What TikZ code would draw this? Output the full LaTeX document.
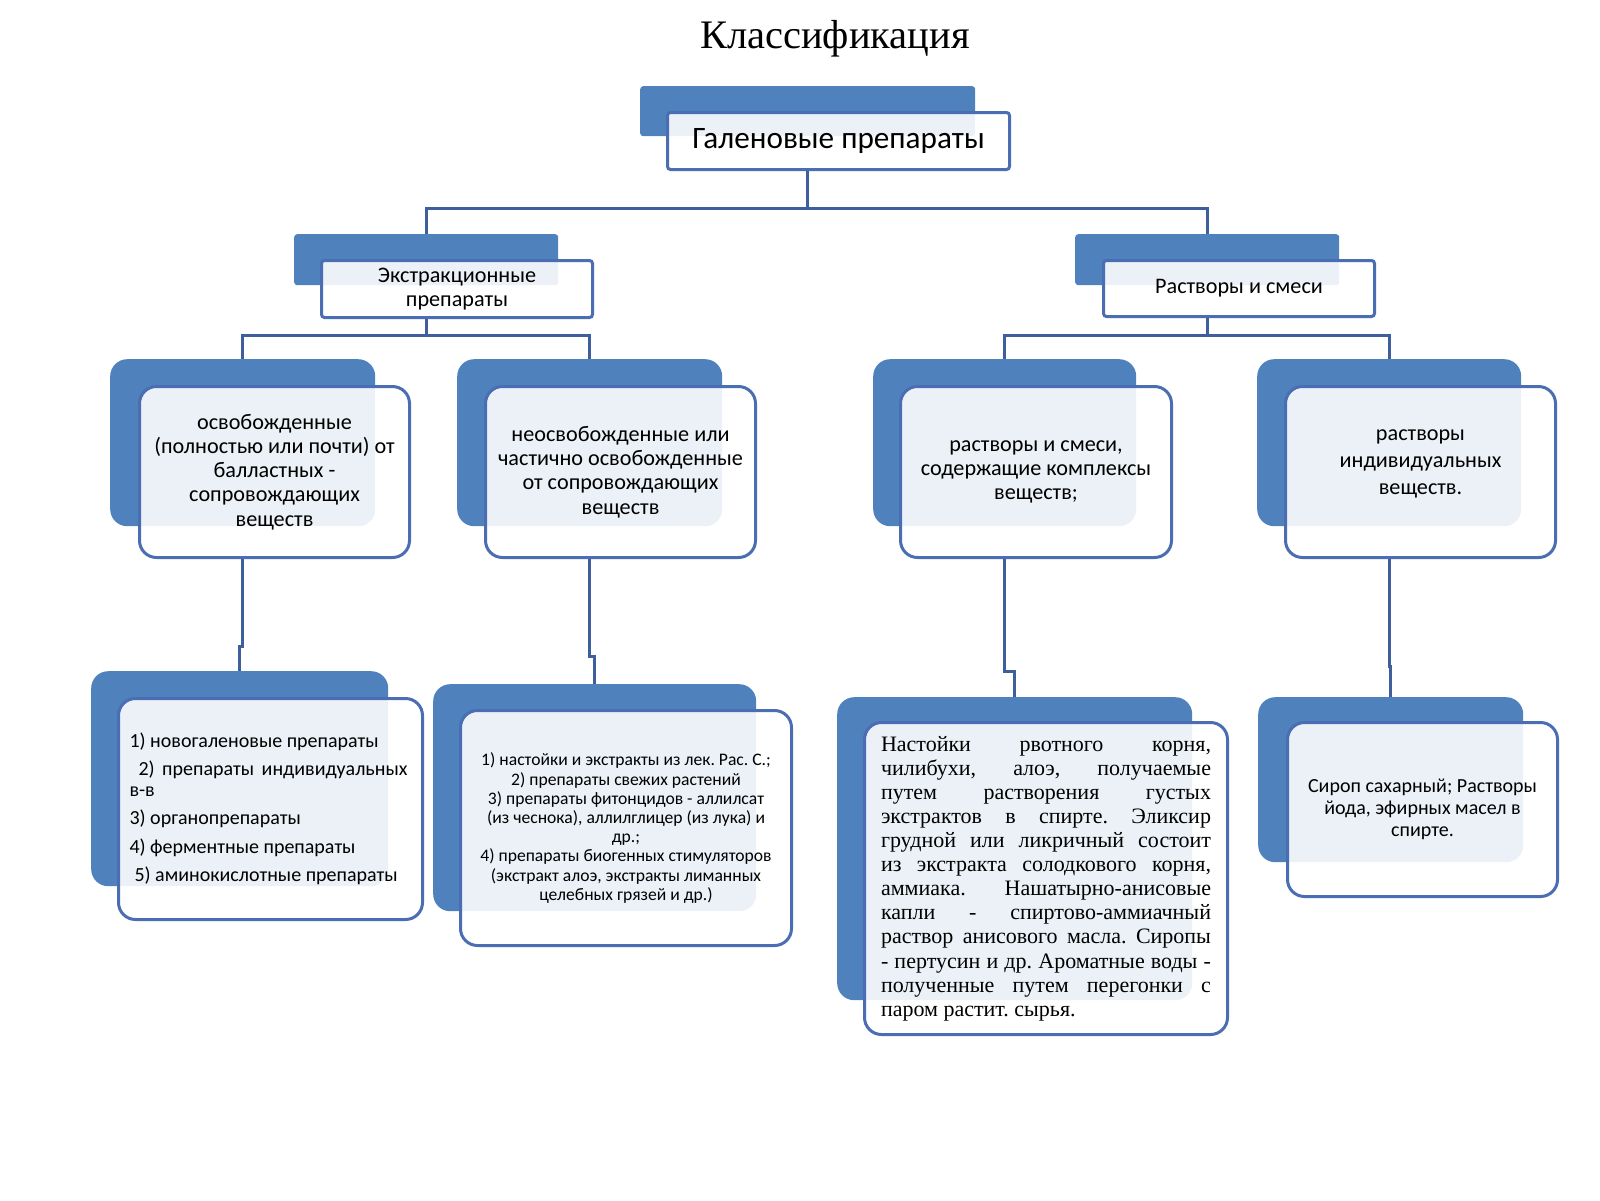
\documentclass[tikz,border=0pt]{standalone}
\usepackage{fontspec}
\setmainfont{Carlito}
\newfontfamily\serf{Liberation Serif}
\definecolor{dblue}{HTML}{4F81BD}
\definecolor{edgeb}{HTML}{4A6DB3}
\definecolor{connb}{HTML}{3F5E9C}
\newcommand{\normsp}{\spaceskip=0pt\xspaceskip=0pt\relax}
\newcommand{\jline}[2]{\leavevmode\hbox to #1{#2}}
\tikzset{
  backbox/.style={fill=dblue, draw=none, inner sep=0pt, anchor=north west},
  frontbox/.style={draw=edgeb, line width=3pt, fill=white, fill opacity=0.89, text opacity=1, inner sep=0pt, anchor=north west, align=center, font=\fontsize{22.2}{24.2}\selectfont},
  rsmall/.style={rounded corners=3pt},
  rbig/.style={rounded corners=17pt},
  conn/.style={draw=connb, line width=3pt},
}
\frenchspacing
\begin{document}
\begin{tikzpicture}[x=1pt,y=-1pt]
\fill[white] (0,0) rectangle (1600,1200);
\useasboundingbox (0,0) rectangle (1600,1200);

% title
\node[font=\serf\fontsize{40.5}{44}\selectfont] (title) at (835,39) {Классификация};

% level 1
\node[backbox, rsmall, minimum width=335, minimum height=50] (topb) at (640,86) {};
\node[frontbox, rsmall, minimum width=342, minimum height=57, font=\fontsize{31.2}{34}\selectfont] (topf) at (666,111) {\normsp\raisebox{-3pt}{Галеновые препараты}};

% level 2
\node[backbox, rsmall, minimum width=264, minimum height=51] (lb) at (294,234) {};
\node[frontbox, rsmall, minimum width=271, minimum height=57, font=\fontsize{22.2}{24.5}\selectfont] (lf) at (320,259) {Экстракционные\\препараты};
\node[backbox, rsmall, minimum width=264, minimum height=51] (rb) at (1075,234) {};
\node[frontbox, rsmall, minimum width=271, minimum height=56, font=\fontsize{22.2}{24.5}\selectfont] (rf) at (1102,259) {Растворы и смеси};

% level 3
\node[backbox, rbig, minimum width=265, minimum height=167] (a3b) at (110,359) {};
\node[frontbox, rbig, minimum width=270, minimum height=171] (a3f) at (138,385) {освобожденные\\(полностью или почти) от\\балластных -\\сопровождающих\\веществ};
\node[backbox, rbig, minimum width=265, minimum height=167] (b3b) at (457,359) {};
\node[frontbox, rbig, minimum width=270, minimum height=171] (b3f) at (484,385) {неосвобожденные или\\частично освобожденные\\от сопровождающих\\веществ};
\node[backbox, rbig, minimum width=263, minimum height=167] (c3b) at (873,359) {};
\node[frontbox, rbig, minimum width=271, minimum height=171] (c3f) at (899,385) {растворы и смеси,\\содержащие комплексы\\веществ;};
\node[backbox, rbig, minimum width=264, minimum height=167] (d3b) at (1257,359) {};
\node[frontbox, rbig, minimum width=270, minimum height=171, font=\fontsize{22.2}{27}\selectfont] (d3f) at (1284,385) {растворы\\индивидуальных\\веществ.\\[-8pt]\mbox{}};

% level 4
\node[backbox, rbig, minimum width=297, minimum height=215] (a4b) at (91,671) {};
\node[frontbox, rbig, minimum width=304, minimum height=221, align=left, text width=282, font=\fontsize{20}{20.5}\selectfont] (a4f) at (117,697) {\normsp 1) новогаленовые препараты\\[8pt]
\hspace*{9pt}\jline{269pt}{2)\hfill препараты\hfill индивидуальных}\\
в-в\\[8pt]
3) органопрепараты\\[8pt]
4) ферментные препараты\\[8pt]
\hspace*{5pt}5) аминокислотные препараты};

\node[backbox, rbig, minimum width=323, minimum height=227] (b4b) at (433,684) {};
\node[frontbox, rbig, minimum width=331, minimum height=235, font=\fontsize{17.6}{19.2}\selectfont] (b4f) at (459,709) {1) настойки и экстракты из лек. Рас. С.;\\2) препараты свежих растений\\3) препараты фитонцидов - аллилсат\\(из чеснока), аллилглицер (из лука) и\\др.;\\4) препараты биогенных стимуляторов\\(экстракт алоэ, экстракты лиманных\\целебных грязей и др.)};

\node[backbox, rbig, minimum width=355, minimum height=303] (c4b) at (837,697) {};
\node[frontbox, rbig, minimum width=363, minimum height=312, align=left, text width=330, font=\serf\fontsize{22}{24.1}\selectfont] (c4f) at (863,721) {\normsp\jline{330pt}{Настойки\hfill рвотного\hfill корня,}\\
\jline{330pt}{чилибухи,\hfill алоэ,\hfill получаемые}\\
\jline{330pt}{путем\hfill растворения\hfill густых}\\
\jline{330pt}{экстрактов\hfill в\hfill спирте.\hfill Эликсир}\\
\jline{330pt}{грудной\hfill или\hfill ликричный\hfill состоит}\\
\jline{330pt}{из\hfill экстракта\hfill солодкового\hfill корня,}\\
\jline{330pt}{аммиака.\hfill Нашатырно-анисовые}\\
\jline{330pt}{капли\hfill -\hfill спиртово-аммиачный}\\
\jline{330pt}{раствор\hfill анисового\hfill масла.\hfill Сиропы}\\
\jline{330pt}{-\hfill пертусин\hfill и\hfill др.\hfill Ароматные\hfill воды\hfill -}\\
\jline{330pt}{полученные\hfill путем\hfill перегонки\hfill с}\\
паром растит. сырья.};

\node[backbox, rbig, minimum width=265, minimum height=165] (d4b) at (1258,697) {};
\node[frontbox, rbig, minimum width=270, minimum height=174, font=\fontsize{20}{22}\selectfont] (d4f) at (1286,721) {Сироп сахарный; Растворы\\йода, эфирных масел в\\спирте.};

% connectors
\draw[conn] (topb |- topf.south) -- ++(0,37) -| (lb.north);
\draw[conn] (topb |- topf.south) -- ++(0,37) -| (rb.north);
\draw[conn] (lb |- lf.south) -- ++(0,16) -| (a3b.north);
\draw[conn] (lb |- lf.south) -- ++(0,16) -| (b3b.north);
\draw[conn] (rb |- rf.south) -- ++(0,17) -| (c3b.north);
\draw[conn] (rb |- rf.south) -- ++(0,17) -| (d3b.north);
\draw[conn] (a3b |- a3f.south) -- ++(0,87) -| (a4b.north);
\draw[conn] (b3b |- b3f.south) -- ++(0,97) -| (b4b.north);
\draw[conn] (c3b |- c3f.south) -- ++(0,112) -| (c4b.north);
\draw[conn] (d3b |- d3f.south) -- ++(0,107) -| (d4b.north);
\end{tikzpicture}
\end{document}
